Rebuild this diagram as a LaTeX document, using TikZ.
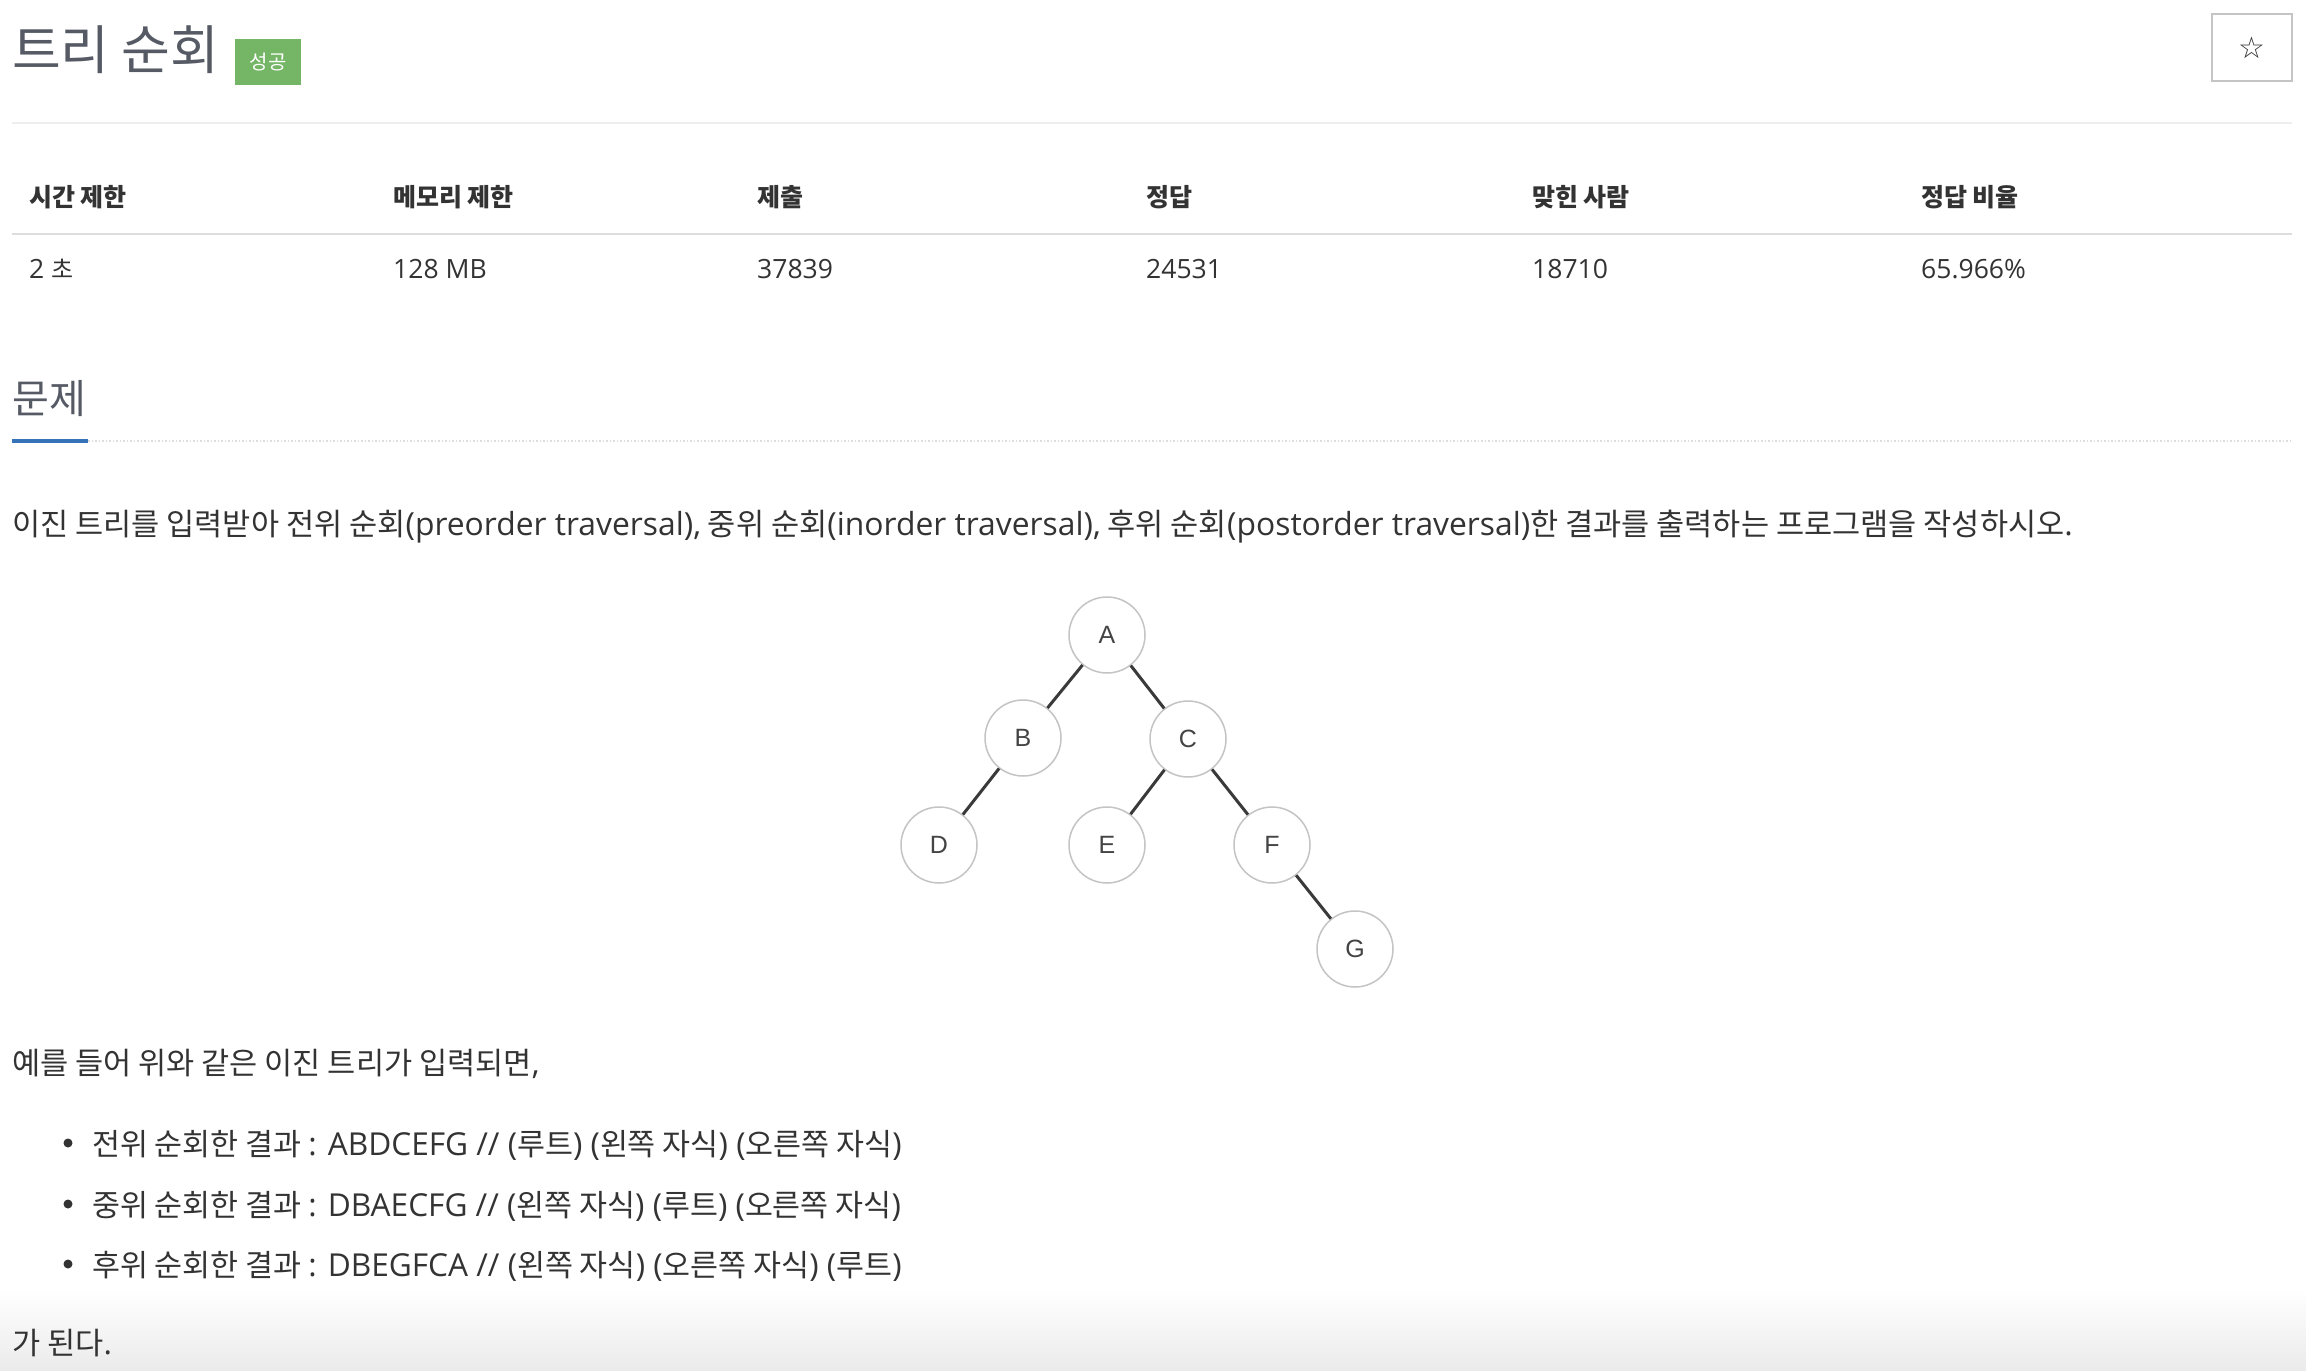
\documentclass[tikz,border=0pt]{standalone}
\usepackage{fontspec}
\setmainfont{Noto Sans CJK KR}
\newfontfamily\osfont[Scale=1.04]{Open Sans}
\newcommand\oslat[1]{{\osfont #1}}
\newfontfamily\treefont{Liberation Sans}
\newfontfamily\symfont{DejaVu Sans}
\definecolor{titlegray}{HTML}{555A64}
\definecolor{txt}{HTML}{333333}
\definecolor{okgreen}{HTML}{74B566}
\definecolor{linegray}{HTML}{EEEEEE}
\definecolor{rulegray}{HTML}{DDDDDD}
\definecolor{blueline}{HTML}{3572B8}
\definecolor{circgray}{HTML}{C4C4C4}
\definecolor{edgegray}{HTML}{3A3A3A}
\definecolor{lettergray}{HTML}{444444}
\begin{document}
\begin{tikzpicture}[x=1pt,y=-1pt,
  txtline/.style={anchor=base west, inner sep=0, text=txt, font=\fontsize{30.6}{36}\selectfont},
  bultline/.style={anchor=base west, inner sep=0, text=txt, font=\fontsize{30.4}{36}\selectfont},
  headcell/.style={anchor=base west, inner sep=0, text=txt, font=\fontsize{25}{28}\selectfont\bfseries},
  valcell/.style={anchor=base west, inner sep=0, text=txt, font=\osfont\fontsize{25.5}{28}\selectfont},
  tnode/.style={circle, draw=circgray, line width=1.5pt, fill=white, minimum size=76pt, inner sep=0, text=lettergray, font=\treefont\fontsize{25}{28}\selectfont},
  tedge/.style={draw=edgegray, line width=3pt},
  bulletdot/.style={circle, fill=txt, inner sep=0, minimum size=9pt}
]
\useasboundingbox (0,0) rectangle (2306,1370);
\fill[white] (0,0) rectangle (2306,1370);
\shade[top color=white, bottom color=black!8] (0,1290) rectangle (2306,1370);

% title
\node[anchor=base west, inner sep=0, text=titlegray, font=\fontsize{53}{62}\selectfont] (title) at (12,70) {트리 순회};
\node[fill=okgreen, minimum width=66pt, minimum height=46pt, inner sep=0, text=white, font=\fontsize{20}{24}\selectfont] (badge) at (268,62) {성공};
\node[draw=circgray, line width=2pt, minimum width=80pt, minimum height=67pt, inner sep=0, text=txt, font=\symfont\fontsize{30}{34}\selectfont] (star) at (2252,47.5) {☆};
\draw[linegray, line width=2pt] (12,123) -- (2292,123);

% table
\node[headcell] (h1) at (29,206) {시간 제한};
\node[headcell] (h2) at (393,206) {메모리 제한};
\node[headcell] (h3) at (757,206) {제출};
\node[headcell] (h4) at (1146,206) {정답};
\node[headcell] (h5) at (1532,206) {맞힌 사람};
\node[headcell] (h6) at (1921,206) {정답 비율};
\draw[rulegray, line width=2pt] (12,234) -- (2292,234);
\node[valcell] (v1) at (29,278) {2 {\rmfamily\fontsize{24}{28}\selectfont 초}};
\node[valcell] (v2) at (393,278) {128 MB};
\node[valcell] (v3) at (757,278) {37839};
\node[valcell] (v4) at (1146,278) {24531};
\node[valcell] (v5) at (1532,278) {18710};
\node[valcell] (v6) at (1921,278) {65.966\%};

% section heading
\node[anchor=base west, inner sep=0, text=titlegray, font=\fontsize{40}{46}\selectfont] (sec) at (12,413) {문제};
\draw[rulegray, line width=1.5pt, dotted] (88,441) -- (2292,441);
\draw[blueline, line width=4.5pt] (12,441) -- (88,441);

\node[txtline] (p1) at (12,535) {이진 트리를 입력받아 전위 순회\oslat{(preorder traversal),} 중위 순회\oslat{(inorder traversal),} 후위 순회\oslat{(postorder traversal)}한 결과를 출력하는 프로그램을 작성하시오\oslat{.}};

% tree
\node[tnode] (A) at (1107,635) {A};
\node[tnode] (B) at (1023,738) {B};
\node[tnode] (C) at (1188,739) {C};
\node[tnode] (D) at (939,845) {D};
\node[tnode] (E) at (1107,845) {E};
\node[tnode] (F) at (1272,845) {F};
\node[tnode] (G) at (1355,949) {G};
\draw[tedge] (A) -- (B);
\draw[tedge] (A) -- (C);
\draw[tedge] (B) -- (D);
\draw[tedge] (C) -- (E);
\draw[tedge] (C) -- (F);
\draw[tedge] (F) -- (G);

\node[txtline] (p2) at (12,1074) {예를 들어 위와 같은 이진 트리가 입력되면\oslat{,}};
\node[bulletdot] (b1) at (68,1143) {};
\node[bulletdot] (b2) at (68,1204) {};
\node[bulletdot] (b3) at (68,1264) {};
\node[bultline] (l1) at (92,1155) {전위 순회한 결과 \oslat{: ABDCEFG // (}루트\oslat{) (}왼쪽 자식\oslat{) (}오른쪽 자식\oslat{)}};
\node[bultline] (l2) at (92,1216) {중위 순회한 결과 \oslat{: DBAECFG // (}왼쪽 자식\oslat{) (}루트\oslat{) (}오른쪽 자식\oslat{)}};
\node[bultline] (l3) at (92,1276) {후위 순회한 결과 \oslat{: DBEGFCA // (}왼쪽 자식\oslat{) (}오른쪽 자식\oslat{) (}루트\oslat{)}};
\node[txtline] (p3) at (12,1354) {가 된다\oslat{.}};
\end{tikzpicture}
\end{document}
